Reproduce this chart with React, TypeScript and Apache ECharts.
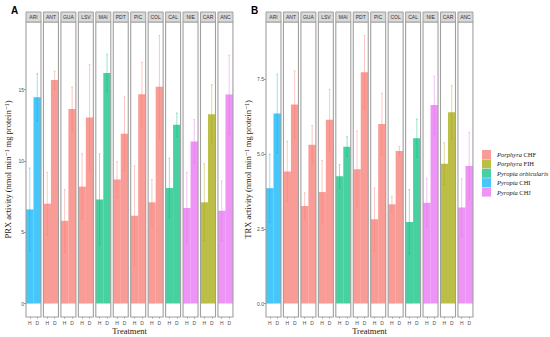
import React, { useEffect, useRef } from "react";
import * as echarts from "echarts";

const sites = ["ARI", "ANT", "GUA", "LSV", "MAI", "PDT", "PIC", "COL", "CAL", "NIE", "CAR", "ANC"];
const siteSpecies = ["CHI", "CHF", "CHF", "CHF", "ORB", "CHF", "CHF", "CHF", "ORB", "CHJ", "FIH", "CHJ"];
const treatments = ["H", "D"];

const speciesKeys = ["CHF", "FIH", "ORB", "CHI", "CHJ"];
const speciesLabels = ["Porphyra CHF", "Porphyra FIH", "Pyropia orbicularis", "Pyropia CHI", "Pyropia CHJ"];
const speciesColors = ["#f8766d", "#a3a500", "#00bf7d", "#00b0f6", "#e76bf3"];

// PRX activity (panel A): means and upper whisker ends
const prxH = [6.6, 7.0, 5.8, 8.2, 7.3, 8.7, 6.15, 7.1, 8.1, 6.7, 7.1, 6.5];
const prxHUpper = [9.5, 9.2, 8.0, 10.5, 10.5, 9.95, 9.65, 8.7, 10.2, 9.2, 9.8, 8.6];
const prxD = [14.46, 15.67, 13.64, 13.05, 16.17, 11.9, 14.67, 15.2, 12.54, 11.37, 13.27, 14.65];
const prxDUpper = [16.12, 16.3, 15.18, 16.75, 17.48, 14.5, 16.9, 18.8, 13.36, 12.9, 15.35, 17.41];

// TRX activity (panel B)
const trxH = [3.86, 4.42, 3.26, 3.73, 4.26, 4.49, 2.82, 3.32, 2.73, 3.37, 4.68, 3.21];
const trxHUpper = [5.0, 5.43, 3.71, 4.79, 4.65, 5.77, 3.87, 3.59, 3.81, 4.18, 5.38, 4.18];
const trxD = [6.36, 6.66, 5.31, 6.15, 5.25, 7.74, 6.01, 5.1, 5.53, 6.64, 6.4, 4.6];
const trxDUpper = [7.67, 7.78, 5.95, 7.17, 5.58, 8.97, 7.04, 5.25, 6.17, 7.61, 7.29, 5.73];

const prxTicks = [0, 5, 10, 15];
const trxTicks = [0, 2.5, 5, 7.5];

const PANEL_W = 15;
const PANEL_STEP = 17.45;
const PANEL_TOP = 22;
const PANEL_BOTTOM = 317;
const STRIP_TOP = 12;

const SERIF = "'Liberation Serif', 'DejaVu Serif', serif";
const SANS = "'Liberation Sans', 'DejaVu Sans', sans-serif";

function rgba(hex: string, a: number) {
  const r = parseInt(hex.slice(1, 3), 16);
  const g = parseInt(hex.slice(3, 5), 16);
  const b = parseInt(hex.slice(5, 7), 16);
  return `rgba(${r},${g},${b},${a})`;
}

function buildOption() {
  const grid: any[] = [];
  const xAxis: any[] = [];
  const yAxis: any[] = [];
  const series: any[] = [];
  const graphic: any[] = [];

  const sets = [
    { left: 26, label: "A", H: prxH, HU: prxHUpper, D: prxD, DU: prxDUpper, ticks: prxTicks, fmt: (v: number) => String(v), name: "PRX activity (nmol min\u207B\u00B9 mg protein\u207B\u00B9)" },
    { left: 266, label: "B", H: trxH, HU: trxHUpper, D: trxD, DU: trxDUpper, ticks: trxTicks, fmt: (v: number) => v.toFixed(1), name: "TRX activity (nmol min\u207B\u00B9 mg protein\u207B\u00B9)" },
  ];

  sets.forEach((set, s) => {
    const maxUp = Math.max(...set.HU, ...set.DU);
    const yMax = maxUp * 1.05;
    const yMin = -maxUp * 0.05;
    sites.forEach((site, i) => {
      const g = s * sites.length + i;
      const left = set.left + i * PANEL_STEP;
      grid.push({ left, top: PANEL_TOP, width: PANEL_W, bottom: 337 - PANEL_BOTTOM, show: false, containLabel: false });
      xAxis.push({
        type: "category",
        gridIndex: g,
        data: treatments,
        boundaryGap: true,
        axisLine: { show: false, onZero: false },
        axisTick: { show: true, length: 1.5, alignWithLabel: true, lineStyle: { color: "#555", width: 0.6 } },
        axisLabel: { fontSize: 5, color: "#4d4d4d", margin: 3, fontFamily: SANS, interval: 0 },
        splitLine: { show: false },
      });
      const first = i === 0;
      yAxis.push({
        type: "value",
        gridIndex: g,
        min: yMin,
        max: yMax,
        show: first,
        axisLine: { show: false },
        splitLine: { show: false },
        axisTick: first ? { show: true, length: 2, customValues: set.ticks, lineStyle: { color: "#555", width: 0.6 } } : { show: false },
        axisLabel: first
          ? { show: true, fontSize: 5, color: "#4d4d4d", margin: 2, fontFamily: SANS, customValues: set.ticks, formatter: (v: number) => set.fmt(v) }
          : { show: false },
        name: first ? set.name : "",
        nameLocation: "middle",
        nameGap: 14,
        nameTextStyle: { fontFamily: SERIF, fontSize: 8.5, color: "#1a1a1a" },
      });
      const sp = speciesKeys.indexOf(siteSpecies[i]);
      const col = speciesColors[sp];
      series.push({
        type: "bar",
        name: speciesLabels[sp],
        xAxisIndex: g,
        yAxisIndex: g,
        barWidth: "100%",
        barGap: "0%",
        itemStyle: { color: rgba(col, 0.72) },
        data: [set.H[i], set.D[i]],
        z: 2,
      });
      const means = [set.H[i], set.D[i]];
      const ups = [set.HU[i], set.DU[i]];
      series.push({
        type: "custom",
        name: speciesLabels[sp],
        xAxisIndex: g,
        yAxisIndex: g,
        z: 3,
        encode: { x: 0, y: [1, 2] },
        data: means.map((m, k) => [k, m - (ups[k] - m), ups[k]]),
        renderItem: (params: any, api: any) => {
          const x = api.value(0);
          const pLo = api.coord([x, api.value(1)]);
          const pHi = api.coord([x, api.value(2)]);
          const st = { stroke: rgba(col, 0.45), lineWidth: 0.9 };
          const cw = 0.9;
          return {
            type: "group",
            children: [
              { type: "line", shape: { x1: pLo[0], y1: pLo[1], x2: pHi[0], y2: pHi[1] }, style: st },
              { type: "line", shape: { x1: pHi[0] - cw, y1: pHi[1], x2: pHi[0] + cw, y2: pHi[1] }, style: st },
              { type: "line", shape: { x1: pLo[0] - cw, y1: pLo[1], x2: pLo[0] + cw, y2: pLo[1] }, style: st },
            ],
          };
        },
      });
      // panel border
      graphic.push({
        type: "rect",
        z: 100,
        shape: { x: left, y: PANEL_TOP, width: PANEL_W, height: PANEL_BOTTOM - PANEL_TOP },
        style: { fill: "none", stroke: "#a0a0a0", lineWidth: 1.1 },
        silent: true,
      });
      // strip
      graphic.push({
        type: "rect",
        z: 100,
        shape: { x: left, y: STRIP_TOP, width: PANEL_W, height: PANEL_TOP - STRIP_TOP },
        style: { fill: "#d9d9d9", stroke: "#a0a0a0", lineWidth: 1 },
        silent: true,
      });
      graphic.push({
        type: "text",
        z: 101,
        x: left + PANEL_W / 2,
        y: (STRIP_TOP + PANEL_TOP) / 2,
        style: { text: site, fontSize: 5, fill: "#333", fontFamily: SANS, align: "center", verticalAlign: "middle" },
        silent: true,
      });
    });
    const panelsRight = set.left + (sites.length - 1) * PANEL_STEP + PANEL_W;
    graphic.push({
      type: "text",
      x: (set.left + panelsRight) / 2,
      y: 331,
      style: { text: "Treatment", fontSize: 8.5, fill: "#1a1a1a", fontFamily: SERIF, align: "center", verticalAlign: "middle" },
    });
    graphic.push({
      type: "text",
      x: set.left - 15,
      y: 10,
      style: { text: set.label, fontSize: 10, fontWeight: "bold", fill: "#000", fontFamily: SANS, align: "left", verticalAlign: "middle" },
    });
  });

  return {
    animation: false,
    backgroundColor: "#fff",
    grid,
    xAxis,
    yAxis,
    series,
    graphic,
    legend: {
      orient: "vertical",
      left: 482,
      top: 150,
      padding: 0,
      itemWidth: 9,
      itemHeight: 9,
      itemGap: 0.4,
      icon: "rect",
      selectedMode: false,
      data: speciesLabels,
      formatter: (name: string) => {
        const parts = name.split(" ");
        if (parts[1] === "orbicularis") return `{i|${name}}`;
        return `{i|${parts[0]}} ${parts.slice(1).join(" ")}`;
      },
      textStyle: {
        fontFamily: SERIF,
        fontSize: 6.5,
        color: "#1a1a1a",
        padding: [0, 0, 0, 1],
        rich: { i: { fontFamily: SERIF, fontSize: 6.5, fontStyle: "italic", color: "#1a1a1a" } },
      },
    },
  };
}

export default function App() {
  const ref = useRef<HTMLDivElement>(null);
  useEffect(() => {
    if (!ref.current) return;
    const chart = echarts.init(ref.current, undefined, { renderer: "svg" });
    chart.setOption(buildOption() as any);
    return () => chart.dispose();
  }, []);
  return <div ref={ref} style={{ position: "absolute", left: 0, top: 0, width: 550, height: 337 }} />;
}
